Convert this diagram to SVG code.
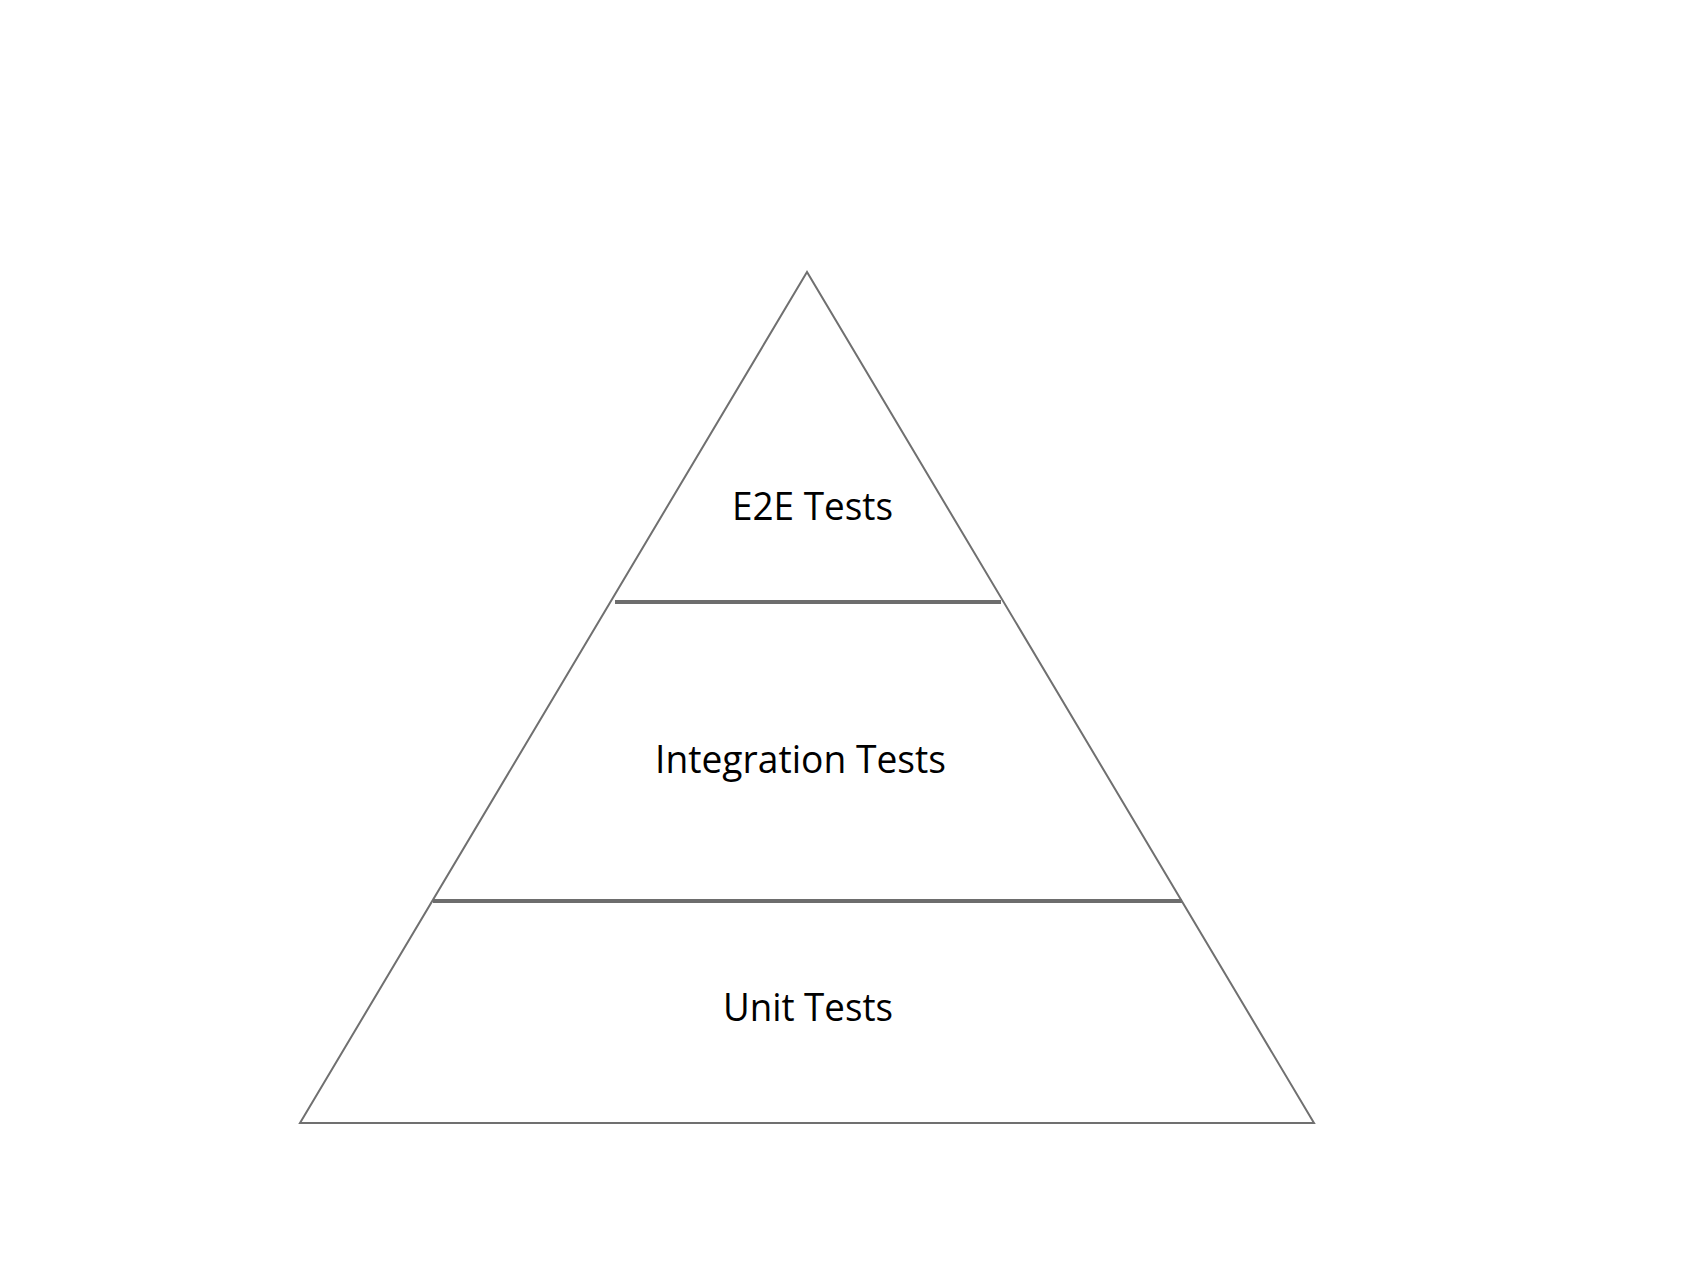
<svg xmlns="http://www.w3.org/2000/svg" width="1706" height="1274" viewBox="0 0 1706 1274">
<style>
.lbl{font-family:"Open Sans","Liberation Sans",sans-serif;font-size:38.5px;fill:#000}
.sep{stroke:#6d6d6d;stroke-width:4}
</style>
<rect width="1706" height="1274" fill="#fff"/>
<g id="pyramid">
<polygon points="807,272 300,1123 1314,1123" fill="#fff" stroke="#707070" stroke-width="2"/>
</g>
<g id="connectors">
<line class="sep" x1="615" y1="602" x2="1001" y2="602"/>
<line class="sep" x1="433" y1="901" x2="1182" y2="901"/>
</g>
<g id="e2e"><text class="lbl" x="732" y="520" textLength="161" lengthAdjust="spacingAndGlyphs">E2E Tests</text></g>
<g id="integration"><text class="lbl" x="655" y="773" textLength="291" lengthAdjust="spacingAndGlyphs">Integration Tests</text></g>
<g id="unit"><text class="lbl" x="723" y="1021" textLength="170" lengthAdjust="spacingAndGlyphs">Unit Tests</text></g>
</svg>
